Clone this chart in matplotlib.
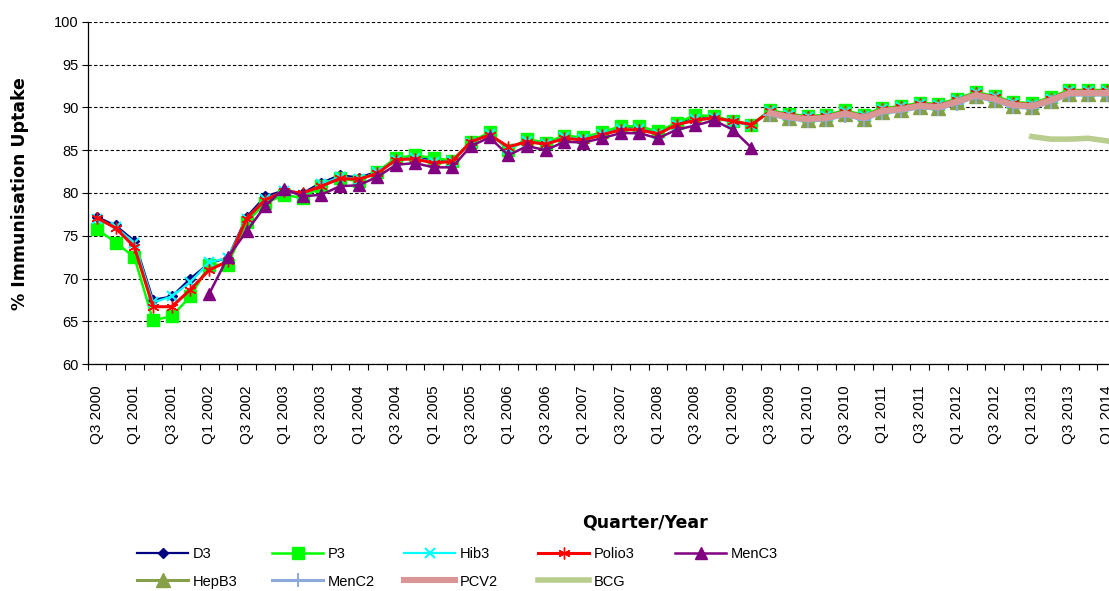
import numpy as np
import matplotlib
matplotlib.use("Agg")
import matplotlib.pyplot as plt

plt.rcParams['font.family'] = ['Liberation Sans', 'DejaVu Sans']

nan = np.nan

# Categories: Q3 2000 ... Q1 2014
quarters = [f"Q{q} {y}" for y in range(2000, 2015) for q in range(1, 5)][2:57]

d3 = [77.2, 76.2, 74.4, 67.5, 67.9, 70.0, 71.8, 72.4, 77.2, 79.6, 80.3, 80.0, 81.2, 82.1, 81.8, 82.5,
      84.0, 84.2, 83.8, 83.8, 86.0, 87.0, 85.2, 86.2, 85.8, 86.5, 86.4, 87.0, 87.6, 87.6, 87.0, 88.1,
      88.8, 88.9, 88.4, 88.0,
      89.55, 89.1, 88.85, 89.0, 89.5, 89.0, 89.8, 90.0, 90.4, 90.25, 90.9, 91.65, 91.2, 90.5, 90.35,
      91.05, 91.9, 91.9, 91.9]
p3 = [75.8, 74.2, 72.5, 65.1, 65.6, 67.9, 71.6, 71.6, 76.6, 78.8, 79.8, 79.4, 80.8, 81.7, 81.4, 82.5,
      84.1, 84.4, 84.1, 83.8, 86.0, 87.1, 85.0, 86.3, 85.9, 86.7, 86.5, 87.1, 87.8, 87.8, 87.2, 88.2,
      89.1, 89.0, 88.4, 88.0,
      89.7, 89.25, 89.0, 89.15, 89.65, 89.15, 89.95, 90.15, 90.55, 90.4, 91.05, 91.8, 91.35, 90.65,
      90.5, 91.2, 92.05, 92.05, 92.05]
hib3 = [77.0, 76.0, 74.2, 67.2, 67.9, 69.6, 71.9, 72.4, 77.0, 79.3, 80.2, 79.8, 81.0, 81.9, 81.6, 82.4,
        83.9, 84.1, 83.6, 83.7, 85.9, 86.9, 85.2, 86.1, 85.7, 86.5, 86.3, 86.9, 87.5, 87.5, 86.9, 88.0,
        88.6, 88.8, 88.3, 87.9,
        89.55, 89.1, 88.85, 89.0, 89.5, 89.0, 89.8, 90.0, 90.4, 90.25, 90.9, 91.65, 91.2, 90.5, 90.35,
        91.05, 91.9, 91.9, 91.9]
polio3 = [77.1, 75.9, 73.7, 66.7, 66.7, 68.7, 71.0, 72.0, 77.0, 79.2, 80.2, 80.0, 80.8, 81.7, 81.6, 82.3,
          83.9, 84.0, 83.5, 83.7, 86.0, 86.8, 85.4, 86.0, 85.7, 86.4, 86.2, 86.8, 87.4, 87.4, 86.9, 88.0,
          88.5, 88.8, 88.4, 88.0,
          89.55, 89.1, 88.85, 89.0, 89.5, 89.0, 89.8, 90.0, 90.4, 90.25, 90.9, 91.65, 91.2, 90.5, 90.35,
          91.05, 91.9, 91.9, 91.9]
menc3 = [nan, nan, nan, nan, nan, nan,
         68.2, 72.5, 75.5, 78.5, 80.5, 79.6, 79.8, 80.8, 80.9, 81.9, 83.3, 83.5, 83.0, 83.0,
         85.5, 86.5, 84.4, 85.5, 85.0, 86.0, 85.9, 86.4, 87.0, 87.0, 86.4, 87.4, 87.9, 88.5, 87.4, 85.3,
         nan, nan, nan, nan, nan, nan, nan, nan, nan, nan, nan, nan, nan, nan, nan, nan, nan, nan, nan]
hepb3 = [nan] * 36 + [89.25, 88.8, 88.55, 88.7, 89.2, 88.7, 89.5, 89.7, 90.1, 89.95, 90.6, 91.35, 90.9,
                      90.2, 90.05, 90.75, 91.6, 91.6, 91.6]
menc2 = [nan] * 36 + [89.1, 88.65, 88.4, 88.55, 89.05, 88.55, 89.35, 89.55, 89.95, 89.8, 90.45, 91.2,
                      90.75, 90.05, 89.9, 90.6, 91.45, 91.45, 91.45]
pcv2 = [nan] * 36 + [89.35, 88.9, 88.65, 88.8, 89.3, 88.8, 89.6, 89.8, 90.2, 90.05, 90.7, 91.45, 91.0,
                     90.3, 90.15, 90.85, 91.7, 91.7, 91.7]
bcg = [nan] * 50 + [86.6, 86.3, 86.3, 86.4, 86.1]

W, H = 1109, 591
fig = plt.figure(figsize=(W / 100, H / 100), dpi=100)
left_px, right_px, top_px, bot_px = 87.6, 87.6 + 55 * 18.7, 22, 364
ax = fig.add_axes([left_px / W, 1 - bot_px / H, (right_px - left_px) / W, (bot_px - top_px) / H])

x = np.arange(len(quarters))

series = [
    ("D3", d3, dict(color="#000080", marker="D", ms=5, lw=1.6)),
    ("P3", p3, dict(color="#00FF00", marker="s", ms=8.3, lw=1.8)),
    ("Hib3", hib3, dict(color="#00FFFF", marker="x", ms=7, mew=1.5, lw=1.6)),
    ("Polio3", polio3, dict(color="#FF0000", marker=(6, 2, 0), ms=8.5, mew=1.0, lw=2.2)),
    ("MenC3", menc3, dict(color="#800080", marker="^", ms=9, lw=1.8)),
    ("HepB3", hepb3, dict(color="#86A04A", marker="^", ms=9.5, lw=2.2)),
    ("MenC2", menc2, dict(color="#8EAADA", marker="+", ms=10, mew=1.4, lw=2.2)),
    ("PCV2", pcv2, dict(color="#D99694", marker="_", ms=6, lw=4.4)),
    ("BCG", bcg, dict(color="#B9CD8E", marker="_", ms=6, lw=4.0)),
]

handles = {}
for name, vals, kw in series:
    ln, = ax.plot(x, vals, label=name, **kw)
    handles[name] = ln

ax.set_xlim(-0.5, len(quarters) - 0.5)
ax.set_ylim(60, 100)

ax.set_xticks(x[::2])
ax.set_xticklabels(quarters[::2])
ax.set_xticks(np.arange(-0.5, len(quarters), 1.0), minor=True)
ax.tick_params(axis='x', which='major', length=0, pad=15.5, labelsize=11, labelrotation=90)
ax.tick_params(axis='x', which='minor', length=4, direction='out', width=0.8)
ax.set_yticks(np.arange(60, 101, 5))
ax.tick_params(axis='y', which='major', length=4, direction='out', width=0.8, pad=2.5, labelsize=10.5)

ax.yaxis.grid(True, linestyle=(0, (3, 2)), color='black', lw=0.8)
ax.set_axisbelow(True)
for s in ['top', 'right']:
    ax.spines[s].set_visible(False)
for s in ['left', 'bottom']:
    ax.spines[s].set_linewidth(0.9)

fig.text(645 / W, 1 - 523 / H, "Quarter/Year", ha='center', va='center', fontsize=12.5,
         fontweight='bold', family='DejaVu Sans')
fig.text(20 / W, 1 - 194 / H, "% Immunisation Uptake", ha='center', va='center', rotation=90,
         fontsize=12.5, fontweight='bold', family='DejaVu Sans')

# Legend laid out as equal-width columns (two rows)
legend_cols = [["D3", "HepB3"], ["P3", "MenC2"], ["Hib3", "PCV2"], ["Polio3", "BCG"], ["MenC3"]]
col_x = [137, 272, 404, 538, 675]
for names, cx in zip(legend_cols, col_x):
    fig.legend([handles[n] for n in names], names, loc='upper left',
               bbox_to_anchor=(cx / W, 1 - 547 / H), ncol=1, frameon=False, fontsize=10.5,
               handlelength=3.5, handletextpad=0.3, labelspacing=0.93,
               borderpad=0, borderaxespad=0)

fig.savefig("out.png", dpi=100)
